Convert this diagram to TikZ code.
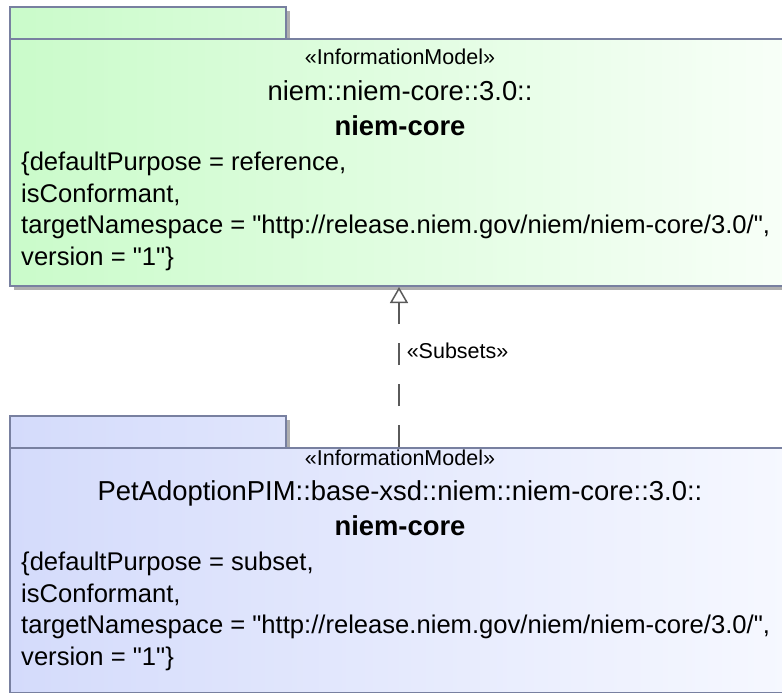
\documentclass[tikz,border=0pt]{standalone}
\usepackage{fontspec}
\setmainfont{Liberation Sans}
\usepackage{tikz}
\usetikzlibrary{arrows.meta, shadows}
\definecolor{pkgline}{RGB}{120,128,160}
\definecolor{refleft}{RGB}{202,251,202}
\definecolor{refright}{RGB}{248,255,248}
\definecolor{subleft}{RGB}{212,219,251}
\definecolor{subright}{RGB}{246,248,255}
\definecolor{shadowgray}{RGB}{175,175,175}
\definecolor{depline}{RGB}{90,90,90}
\newcommand{\qq}{\textquotedbl}

\begin{document}
\begin{tikzpicture}[x=1pt, y=-1pt,
    pkgshadow/.style={general shadow={fill=shadowgray, shadow xshift=4pt, shadow yshift=-4pt}},
    tab/.style={draw=pkgline, line width=2pt, anchor=north west, inner sep=0pt,
                minimum width=276pt, minimum height=32pt, pkgshadow},
    pkgbody/.style={draw=pkgline, line width=2pt, anchor=north west, inner sep=0pt,
                minimum width=778pt, pkgshadow},
    stereo/.style={font=\fontsize{21.5}{25}\selectfont, anchor=base, inner sep=0pt},
    qname/.style={font=\fontsize{27.4}{32}\selectfont, anchor=base, inner sep=0pt},
    pname/.style={font=\fontsize{27.4}{32}\selectfont\bfseries, anchor=base, inner sep=0pt},
    tag/.style={font=\fontsize{25.6}{30}\selectfont, anchor=base west, inner sep=0pt},
    dep/.style={draw=depline, line width=1.5pt, dash pattern=on 22pt off 19pt,
                -{Triangle[open, fill=white, length=16pt, width=18pt]}}
  ]
    \useasboundingbox (0,0) rectangle (782,693);
    \clip (0,0) rectangle (782,693);

    % referenced package
    \node[tab, left color=refleft, right color=refleft!65!refright] (reftab) at (9,6) {};
    \node[pkgbody, minimum height=247pt, left color=refleft, right color=refright] (refbody) at (9,38) {};
    \node[stereo] (refst) at (400,65) {«InformationModel»};
    \node[qname] (refqn) at (400,100) {niem::niem-core::3.0::};
    \node[pname] (refnm) at (400,135) {niem-core};
    \node[tag] (refa) at (21,170) {\{defaultPurpose = reference,};
    \node[tag] (refb) at (21,202) {isConformant,};
    \node[tag] (refc) at (21,233) {targetNamespace = \qq http://release.niem.gov/niem/niem-core/3.0/\qq,};
    \node[tag] (refd) at (21,265) {version = \qq 1\qq\}};

    % subset package
    \node[tab, left color=subleft, right color=subleft!65!subright] (subtab) at (9,415) {};
    \node[pkgbody, minimum height=245pt, left color=subleft, right color=subright] (subbody) at (9,447) {};
    \node[stereo] (subst) at (400,465) {«InformationModel»};
    \node[qname] (subqn) at (400,500) {PetAdoptionPIM::base-xsd::niem::niem-core::3.0::};
    \node[pname] (subnm) at (400,535) {niem-core};
    \node[tag] (suba) at (21,570) {\{defaultPurpose = subset,};
    \node[tag] (subb) at (21,602) {isConformant,};
    \node[tag] (subc) at (21,633) {targetNamespace = \qq http://release.niem.gov/niem/niem-core/3.0/\qq,};
    \node[tag] (subd) at (21,665) {version = \qq 1\qq\}};

    \draw[dep] (subbody.north) -- node[stereo, pos=0.6, anchor=west, xshift=7pt] (sublbl) {«Subsets»} (refbody.south);
  \end{tikzpicture}
\end{document}
